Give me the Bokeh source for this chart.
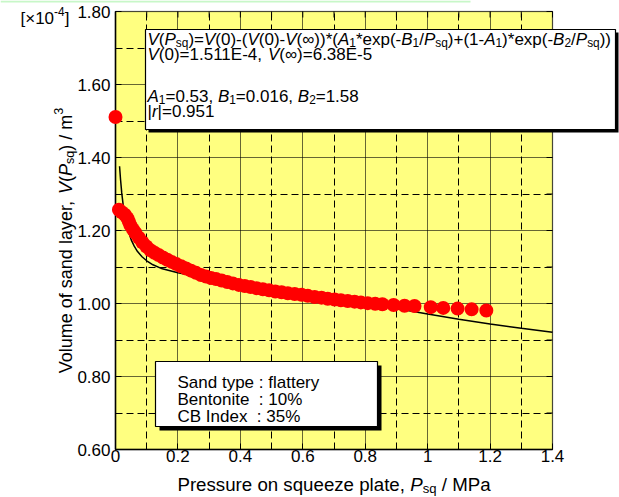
import math
from bokeh.plotting import figure
from bokeh.models import Label, BoxAnnotation, FixedTicker, LinearAxis, Range1d, Grid
from bokeh.embed import file_html
from bokeh.resources import INLINE

# ---------------- data ----------------
pressure = [0.000, 0.011, 0.020, 0.030, 0.038, 0.043, 0.048, 0.056, 0.064, 0.075,
            0.086, 0.099, 0.112, 0.125, 0.138, 0.152, 0.166, 0.180, 0.195, 0.210,
            0.226, 0.242, 0.258, 0.274, 0.290, 0.306, 0.322, 0.340, 0.358, 0.376,
            0.395, 0.414, 0.433, 0.452, 0.472, 0.492, 0.512, 0.532, 0.552, 0.574,
            0.596, 0.616, 0.638, 0.660, 0.680, 0.702, 0.722, 0.744, 0.766, 0.786,
            0.808, 0.832, 0.855, 0.891, 0.926, 0.958, 1.010, 1.050, 1.096, 1.141,
            1.188]
volume = [1.511, 1.257, 1.250, 1.243, 1.234, 1.224, 1.214, 1.203, 1.193, 1.180,
          1.168, 1.156, 1.146, 1.139, 1.133, 1.126, 1.120, 1.114, 1.108, 1.102,
          1.096, 1.090, 1.084, 1.078, 1.074, 1.070, 1.067, 1.063, 1.059, 1.055,
          1.051, 1.048, 1.045, 1.042, 1.039, 1.036, 1.033, 1.031, 1.028, 1.026,
          1.024, 1.021, 1.018, 1.016, 1.013, 1.011, 1.009, 1.007, 1.005, 1.003,
          1.001, 0.999, 0.998, 0.996, 0.994, 0.993, 0.990, 0.988, 0.986, 0.984,
          0.981]

fit_pressure = [0.013, 0.016, 0.020, 0.025, 0.030, 0.040, 0.050, 0.060, 0.070, 0.085,
                0.100, 0.120, 0.150, 0.200, 0.250, 0.300, 0.400, 0.500, 0.600, 0.700,
                0.800, 0.900, 1.000, 1.100, 1.200, 1.300, 1.400]
fit_volume = [1.376, 1.341, 1.303, 1.267, 1.240, 1.201, 1.175, 1.157, 1.143, 1.128,
              1.117, 1.106, 1.095, 1.084, 1.076, 1.070, 1.059, 1.046, 1.031, 1.016,
              1.001, 0.986, 0.971, 0.957, 0.944, 0.932, 0.921]

x_ticks = [0.0, 0.2, 0.4, 0.6, 0.8, 1.0, 1.2, 1.4]
x_tick_labels = ["0", "0.2", "0.4", "0.6", "0.8", "1", "1.2", "1.4"]
x_minor = [0.1, 0.3, 0.5, 0.7, 0.9, 1.1, 1.3]
y_ticks = [0.6, 0.8, 1.0, 1.2, 1.4, 1.6, 1.8]
y_tick_labels = ["0.60", "0.80", "1.00", "1.20", "1.40", "1.60", "1.80"]
y_minor = [0.7, 0.9, 1.1, 1.3, 1.5, 1.7]

# ---------------- layout ----------------
W, H = 619, 497
FL, FR, FT, FB = 115, 552, 11, 449          # visible plot box in page pixels
X0, X1, Y0, Y1 = 0.0, 1.4, 0.6, 1.8
FONT = "Liberation Sans"
YELLOW = "#ffff80"
PXX = (X1 - X0) / (FR - FL)
PXY = (Y1 - Y0) / (FB - FT)


def X(cx):
    return X0 + (cx - FL) * PXX


def Y(cy):
    return Y1 - (cy - FT) * PXY


# the frame covers the whole page so nothing outside the plot box is clipped
p = figure(width=W, height=H, x_range=Range1d(X(0), X(W)), y_range=Range1d(Y(H), Y(0)),
           output_backend="svg", toolbar_location=None,
           x_axis_location=None, y_axis_location=None,
           min_border=0, min_border_left=0, min_border_right=0,
           min_border_top=0, min_border_bottom=0)
p.center = []
p.background_fill_color = "white"
p.border_fill_color = "white"
p.outline_line_color = None

# yellow plot area
p.add_layout(BoxAnnotation(left=X0, right=X1, bottom=Y0, top=Y1, level="image",
                           fill_color=YELLOW, fill_alpha=1, line_color=None))

xt = FixedTicker(ticks=x_ticks, minor_ticks=x_minor)
yt = FixedTicker(ticks=y_ticks, minor_ticks=y_minor)

use_grid = True
grids = []
for dim, t, b, cb in ((0, xt, (X0, X1), (Y0, Y1)), (1, yt, (Y0, Y1), (X0, X1))):
    g = Grid(dimension=dim, ticker=t)
    try:
        g.bounds = b
        g.cross_bounds = cb
    except AttributeError:
        use_grid = False
    g.grid_line_color = "black"
    g.grid_line_alpha = 0.6
    g.grid_line_width = 1
    g.minor_grid_line_color = "black"
    g.minor_grid_line_dash = "7 4"
    g.minor_grid_line_width = 1
    grids.append(g)

if use_grid:
    for g in grids:
        p.add_layout(g, "center")
else:
    p.segment(x0=x_ticks, x1=x_ticks, y0=[Y0] * len(x_ticks), y1=[Y1] * len(x_ticks),
              line_color="black", line_alpha=0.6, line_width=1, level="underlay")
    p.segment(x0=x_minor, x1=x_minor, y0=[Y0] * len(x_minor), y1=[Y1] * len(x_minor),
              line_color="black", line_dash="7 4", line_width=1, level="underlay")
    p.segment(x0=[X0] * len(y_ticks), x1=[X1] * len(y_ticks), y0=y_ticks, y1=y_ticks,
              line_color="black", line_alpha=0.6, line_width=1, level="underlay")
    p.segment(x0=[X0] * len(y_minor), x1=[X1] * len(y_minor), y0=y_minor, y1=y_minor,
              line_color="black", line_dash="7 4", line_width=1, level="underlay")

# frame outline
p.add_layout(BoxAnnotation(left=X0, right=X1, bottom=Y0, top=Y1, level="underlay",
                           fill_alpha=0, line_color="black", line_width=1.5))

# axes fixed at the plot box edges
xaxis = LinearAxis(ticker=xt, fixed_location=Y0, bounds=(X0, X1))
yaxis = LinearAxis(ticker=yt, fixed_location=X0, bounds=(Y0, Y1))
xaxis.major_label_overrides = {t: s for t, s in zip(x_ticks, x_tick_labels)}
yaxis.major_label_overrides = {t: s for t, s in zip(y_ticks, y_tick_labels)}
xaxis.major_label_standoff = 0
yaxis.major_label_standoff = 5
for ax in (xaxis, yaxis):
    ax.level = "underlay"
    ax.axis_label = None
    ax.major_label_text_font = FONT
    ax.major_label_text_font_size = "17px"
    ax.major_label_text_color = "black"
    ax.axis_line_color = "black"
    ax.axis_line_width = 1.5
    ax.major_tick_in = 6
    ax.major_tick_out = 0
    ax.minor_tick_in = 6
    ax.minor_tick_out = 0
    ax.major_tick_line_color = "black"
    ax.minor_tick_line_color = "black"
p.add_layout(xaxis, "below")
p.add_layout(yaxis, "left")

# inner ticks on the top and right edges, from the same tick lists
x_all = sorted(x_ticks + x_minor)
y_all = sorted(y_ticks + y_minor)
p.segment(x0=x_all, x1=x_all, y0=[Y1] * len(x_all), y1=[Y1 - 6 * PXY] * len(x_all),
          line_color="black", line_width=1, level="underlay")
p.segment(x0=[X1] * len(y_all), x1=[X1 - 6 * PXX] * len(y_all), y0=y_all, y1=y_all,
          line_color="black", line_width=1, level="underlay")

# data
p.line(fit_pressure, fit_volume, line_color="black", line_width=1.5)
p.scatter(pressure, volume, size=14, fill_color="#ff0000", line_color=None)

# ---------------- text helpers ----------------
CW = {' ': 278, '!': 278, '%': 889, '(': 333, ')': 333, '*': 389, '+': 584, ',': 278,
      '-': 333, '.': 278, '/': 278, ':': 278, '=': 584, '[': 278, ']': 278, '|': 260,
      '×': 584, '∞': 713, 'A': 667, 'B': 667, 'C': 722, 'E': 667, 'I': 278, 'M': 833,
      'P': 667, 'S': 667, 'V': 667, 'a': 556, 'b': 556, 'c': 500, 'd': 556, 'e': 556,
      'f': 278, 'i': 222, 'l': 222, 'm': 833, 'n': 556, 'o': 556, 'p': 556, 'q': 556,
      'r': 333, 's': 500, 't': 278, 'u': 556, 'x': 500, 'y': 500, 'z': 500}
for d in "0123456789":
    CW[d] = 556

SUB = 0.7
FIX = 5.5   # baseline correction (px)


def tw(s, size):
    return sum(CW.get(c, 556) for c in s) / 1000.0 * size


def runs_width(runs, size):
    return sum(tw(t, size * SUB if k in ("sub", "sup") else size) for t, k in runs)


def draw_runs(runs, cx, cy, size, vertical=False):
    pos = 0.0
    for text, kind in runs:
        fs = size * SUB if kind in ("sub", "sup") else size
        shift = -FIX
        if kind == "sub":
            shift += size * 0.22
        elif kind == "sup":
            shift -= size * 0.40
        lead = len(text) - len(text.lstrip(" "))
        shown = text.strip(" ")
        off = pos + tw(" " * lead, fs)
        if shown:
            if vertical:
                px, py, ang = cx + shift, cy - off, math.pi / 2
            else:
                px, py, ang = cx + off, cy + shift, 0.0
            p.add_layout(Label(x=X(px), y=Y(py), text=shown, angle=ang,
                               text_font=FONT, text_font_size="%.1fpx" % fs,
                               text_font_style="italic" if kind == "i" else "normal",
                               text_color="black", text_align="left",
                               text_baseline="alphabetic"))
        pos += tw(text, fs)


def box(l, t, r, b, shadow):
    p.add_layout(BoxAnnotation(left=X(l + shadow), right=X(r + shadow),
                               top=Y(t + shadow), bottom=Y(b + shadow),
                               fill_color="black", fill_alpha=1, line_color=None))
    p.add_layout(BoxAnnotation(left=X(l), right=X(r), top=Y(t), bottom=Y(b),
                               fill_color="white", fill_alpha=1,
                               line_color="black", line_width=1.2, line_alpha=1))


# thin green strip at the top of the page
p.add_layout(BoxAnnotation(left=X(0), right=X(470), top=Y(0), bottom=Y(2),
                           fill_color="#c8f7c8", fill_alpha=1, line_color=None))

# ---------------- scale factor ----------------
draw_runs([("[×10", "n"), ("-4", "sup"), ("]", "n")], 20, 23, 17)

# ---------------- axis titles ----------------
XT_FS = 18.7
xt_runs = [("Pressure on squeeze plate, ", "n"), ("P", "i"), ("sq", "sub"), (" / MPa", "n")]
xw = runs_width(xt_runs, XT_FS)
draw_runs(xt_runs, (FL + FR) / 2 - xw / 2, 489, XT_FS)

YT_FS = 18
yt_runs = [("Volume of sand layer, ", "n"), ("V", "i"), ("(", "n"), ("P", "i"),
           ("sq", "sub"), (") / m", "n"), ("3", "sup")]
yw = runs_width(yt_runs, YT_FS)
draw_runs(yt_runs, 71, 240 + yw / 2, YT_FS, vertical=True)

# ---------------- equation box ----------------
box(145, 29, 615, 129, 3)
FS = 17
eq1 = [("V", "i"), ("(", "n"), ("P", "i"), ("sq", "sub"), (")=", "n"), ("V", "i"),
       ("(0)-(", "n"), ("V", "i"), ("(0)-", "n"), ("V", "i"), ("(∞))*(", "n"),
       ("A", "i"), ("1", "sub"), ("*exp(-", "n"), ("B", "i"), ("1", "sub"), ("/", "n"),
       ("P", "i"), ("sq", "sub"), (")+(1-", "n"), ("A", "i"), ("1", "sub"),
       (")*exp(-", "n"), ("B", "i"), ("2", "sub"), ("/", "n"), ("P", "i"),
       ("sq", "sub"), ("))", "n")]
eq2 = [("V", "i"), ("(0)=1.511E-4, ", "n"), ("V", "i"), ("(∞)=6.38E-5", "n")]
eq3 = [("A", "i"), ("1", "sub"), ("=0.53, ", "n"), ("B", "i"), ("1", "sub"),
       ("=0.016, ", "n"), ("B", "i"), ("2", "sub"), ("=1.58", "n")]
eq4 = [("|", "n"), ("r", "i"), ("|=0.951", "n")]
draw_runs(eq1, 147, 44, FS)
draw_runs(eq2, 147, 59, FS)
draw_runs(eq3, 147, 101, FS)
draw_runs(eq4, 147, 116.5, FS)

# ---------------- sample box ----------------
box(155, 361, 377, 426, 4)
draw_runs([("Sand type : flattery", "n")], 177, 387, FS)
draw_runs([("Bentonite", "n"), ("  : 10%", "n")], 177, 404, FS)
draw_runs([("CB Index", "n"), ("  : 35%", "n")], 177, 421, FS)

open("out.html", "w").write(file_html(p, INLINE))
